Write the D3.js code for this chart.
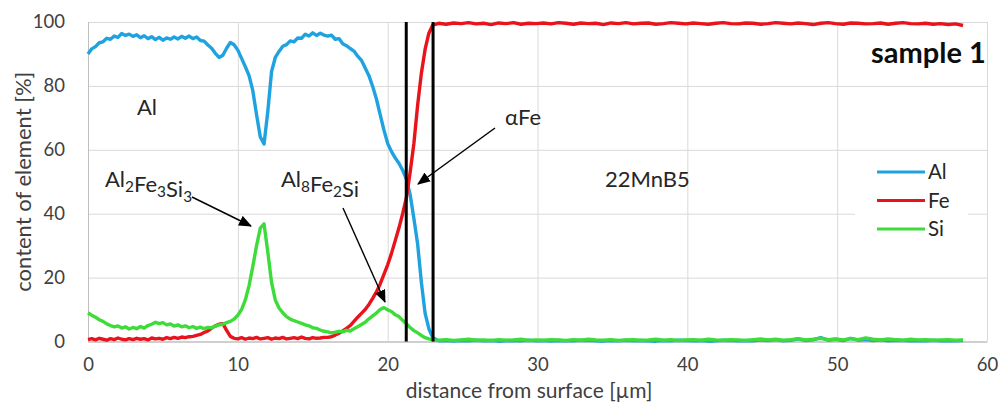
<!DOCTYPE html>
<html>
<head>
<meta charset="utf-8">
<script src="https://cdn.jsdelivr.net/npm/d3@7"></script>
<style>
  html, body { margin: 0; padding: 0; background: #fff; }
  svg { display: block; font-family: Lato, "Open Sans", sans-serif; }
</style>
</head>
<body>
<svg id="chart" width="1001" height="403"></svg>
<script>
// EDS line scan through the coating: element content vs. distance from surface.
// Near-surface profile sampled every 0.25 µm from 0 µm.
const profileStart = 0;
const profileStep = 0.25;
const alProfile = [
  90.0, 91.6, 92.3, 93.5, 93.8, 94.9, 94.6, 95.6, 95.2, 96.4, 95.8, 96.2, 95.5, 96.0, 95.1, 95.7,
  94.8, 95.4, 94.5, 95.2, 94.3, 95.0, 94.6, 95.3, 94.7, 95.5, 94.9, 95.6, 94.8, 95.3, 94.2, 94.0,
  92.8, 91.8, 90.2, 88.9, 89.6, 91.8, 93.6, 92.9, 91.2, 88.6, 86.0, 83.2, 78.5, 71.0, 64.0, 61.8,
  72.0, 84.5, 88.9, 90.8, 92.4, 92.9, 94.1, 93.8, 95.0, 94.9, 96.2, 95.6, 96.6, 95.8, 96.5, 95.9,
  95.6, 95.9, 94.6, 94.8, 93.2, 92.6, 91.7, 90.9, 89.3, 88.0, 85.6, 83.2, 79.8, 75.9, 71.0, 66.2,
  62.0, 59.5, 57.5, 55.8, 53.6, 50.8, 46.0, 38.5, 30.5, 18.5, 8.8, 4.0, 1.3
];
const feProfile = [
  0.6, 0.9, 0.5, 1.0, 0.7, 0.4, 0.9, 0.6, 1.1, 0.7, 0.5, 0.9, 0.6, 1.0, 0.7, 0.9,
  0.5, 1.1, 0.8, 1.0, 0.7, 1.2, 0.9, 1.3, 1.0, 1.4, 1.2, 1.5, 1.6, 1.9, 2.2, 2.8,
  3.3, 4.2, 4.9, 5.4, 5.6, 3.5, 1.6, 1.0, 0.8, 1.2, 0.7, 1.1, 0.9, 1.3, 0.8, 1.0,
  1.2, 0.7, 1.1, 0.9, 1.3, 0.8, 1.0, 1.2, 0.9, 1.4, 1.0, 0.8, 1.2, 1.0, 1.1, 1.3,
  1.3, 1.5, 2.0, 2.6, 3.3, 4.1, 5.0, 6.3, 7.6, 8.8, 10.0, 11.6, 13.5, 15.5, 18.0, 21.0,
  24.0, 27.5, 31.5, 35.5, 40.0, 45.0, 53.0, 62.0, 74.0, 84.0, 91.5, 96.5, 99.0
];
const siProfile = [
  9.0, 8.2, 7.6, 6.8, 6.3, 5.5, 5.0, 4.6, 4.9, 4.2, 4.6, 3.9, 4.4, 4.0, 4.7, 4.2,
  5.0, 5.4, 6.0, 5.6, 5.9, 5.2, 5.5, 4.8, 5.2, 4.6, 4.9, 4.3, 4.7, 4.1, 4.5, 4.0,
  4.4, 4.3, 4.8, 5.2, 5.4, 5.9, 6.3, 7.0, 8.2, 10.0, 13.0, 17.5, 23.5, 30.0, 35.5, 36.8,
  28.0, 18.5, 13.0, 10.5, 9.0, 7.8, 7.0, 6.5, 6.1, 5.7, 5.2, 4.9, 4.3, 4.1, 3.6, 3.2,
  3.0, 2.7, 2.9, 3.2, 3.0, 3.5, 3.3, 4.0, 4.6, 5.3, 6.0, 7.1, 8.0, 8.9, 10.0, 10.6,
  9.9, 9.4, 8.4, 7.8, 6.6, 5.6, 4.4, 3.4, 2.7, 1.9, 1.2, 0.8, 0.5
];

// Steel substrate, sampled every 0.5 µm from 23.4 µm to the end of the scan.
const substrateStart = 23.4;
const substrateStep = 0.5;
const alSubstrate = [
  0.2, 0.3, 0.1, 0.3, 0.2, 0.4, 0.2, 0.3, 0.1, 0.2, 0.3, 0.2, 0.4, 0.2, 0.3, 0.1,
  0.3, 0.2, 0.2, 0.4, 0.3, 0.2, 0.1, 0.3, 0.2, 0.4, 0.2, 0.3, 0.2, 0.1, 0.3, 0.2,
  0.4, 0.3, 0.2, 0.3, 0.1, 0.2, 0.4, 0.3, 0.2, 0.3, 0.2, 0.5, 0.3, 0.6, 0.2, 0.4,
  0.8, 0.3, 0.5, 1.2, 0.4, 0.7, 0.3, 1.0, 0.4, 0.6, 0.3, 0.5, 0.2, 0.4, 0.3, 0.2,
  0.3, 0.2, 0.4, 0.2, 0.3, 0.2, 0.3
];
const feSubstrate = [
  99.6, 99.3, 99.7, 99.5, 99.8, 99.4, 99.6, 99.2, 99.7, 99.5, 99.8, 99.3, 99.6, 99.5, 99.7, 99.4,
  99.8, 99.6, 99.3, 99.7, 99.5, 99.6, 99.2, 99.7, 99.5, 99.8, 99.4, 99.6, 99.7, 99.3, 99.5, 99.8,
  99.6, 99.4, 99.7, 99.5, 99.3, 99.6, 99.8, 99.5, 99.4, 99.7, 99.6, 99.3, 99.5, 99.8, 99.6, 99.4,
  99.7, 99.5, 99.2, 99.6, 99.8, 99.5, 99.3, 99.7, 99.6, 99.4, 99.5, 99.7, 99.3, 99.6, 99.8, 99.5,
  99.4, 99.6, 99.3, 99.5, 99.2, 99.4, 98.9
];
const siSubstrate = [
  0.4, 0.6, 0.3, 0.5, 0.7, 0.4, 0.5, 0.3, 0.6, 0.4, 0.5, 0.7, 0.3, 0.5, 0.4, 0.6,
  0.5, 0.3, 0.6, 0.4, 0.7, 0.5, 0.4, 0.6, 0.3, 0.5, 0.6, 0.4, 0.5, 0.7, 0.4, 0.6,
  0.3, 0.5, 0.6, 0.4, 0.7, 0.5, 0.4, 0.6, 0.5, 0.3, 0.6, 0.8, 0.5, 0.7, 0.4, 0.6,
  0.9, 0.5, 0.7, 1.0, 0.6, 0.8, 0.5, 0.9, 0.6, 1.1, 0.7, 0.5, 0.8, 0.6, 0.4, 0.7,
  0.5, 0.6, 0.4, 0.5, 0.6, 0.4, 0.5
];

const seriesNames = ["Al", "Fe", "Si"];
const seriesColors = ["#1fa3e0", "#e8131b", "#3ddc3a"];
const xTicks = [0, 10, 20, 30, 40, 50, 60];
const yTicks = [0, 20, 40, 60, 80, 100];
// Phase boundaries marked with vertical lines (µm).
const boundaries = [21.24, 23.03];

const svg = d3.select("#chart");
const W = 1001, H = 403;
const x = d3.scaleLinear().domain([0, 60]).range([88, 987]);
const y = d3.scaleLinear().domain([0, 100]).range([341.5, 22]);

svg.append("rect").attr("width", W).attr("height", H).attr("fill", "#fff");

// Gridlines and axes
const gridColor = "#d9d9d9";
const textColor = "#404040";

const yAxis = svg.append("g")
  .attr("transform", `translate(${x(0)},0)`)
  .call(d3.axisLeft(y).tickValues(yTicks).tickSizeInner(-(x(60) - x(0))).tickSizeOuter(0).tickPadding(23));
const xAxis = svg.append("g")
  .attr("transform", `translate(0,${y(0)})`)
  .call(d3.axisBottom(x).tickValues(xTicks).tickSizeInner(-(y(0) - y(100))).tickSizeOuter(0).tickPadding(16));

[yAxis, xAxis].forEach(g => {
  g.select(".domain").attr("stroke", "#bfbfbf").attr("stroke-width", 1);
  g.selectAll(".tick line").attr("stroke", gridColor).attr("stroke-width", 1);
  g.selectAll(".tick text").attr("fill", textColor).attr("font-size", 18.5).attr("font-family", "Lato, sans-serif");
});
xAxis.selectAll(".tick").filter(d => d === 0).select("line").attr("stroke", "#bfbfbf");
yAxis.selectAll(".tick").filter(d => d === 0).select("line").attr("stroke", "#bfbfbf");

// Axis titles
svg.append("text")
  .attr("x", 529).attr("y", 398)
  .attr("text-anchor", "middle").attr("font-size", 21).attr("fill", textColor)
  .text("distance from surface [µm]");
svg.append("text")
  .attr("transform", `translate(31,${(y(0) + y(100)) / 2}) rotate(-90)`)
  .attr("text-anchor", "middle").attr("font-size", 22).attr("fill", textColor)
  .text("content of element [%]");

// Series lines
function points(profile, substrate) {
  const a = profile.map((v, i) => [profileStart + i * profileStep, v]);
  const b = substrate.map((v, i) => [substrateStart + i * substrateStep, v]);
  return a.concat(b);
}
const series = [
  points(alProfile, alSubstrate),
  points(feProfile, feSubstrate),
  points(siProfile, siSubstrate)
];
const line = d3.line().x(d => x(d[0])).y(d => y(d[1]));
svg.append("g").selectAll("path").data(series).join("path")
  .attr("d", line)
  .attr("fill", "none")
  .attr("stroke", (d, i) => seriesColors[i])
  .attr("stroke-width", 3.4)
  .attr("stroke-linejoin", "round");

// Phase boundary lines
svg.append("g").selectAll("line").data(boundaries).join("line")
  .attr("x1", d => x(d)).attr("x2", d => x(d))
  .attr("y1", y(100)).attr("y2", y(0))
  .attr("stroke", "#000").attr("stroke-width", 3);

// Phase labels
const labelFont = 22;
function label(tx, ty, parts, opts = {}) {
  const size = opts.size || labelFont;
  const t = svg.append("text").attr("x", tx).attr("y", ty)
    .attr("font-size", size).attr("fill", opts.color || "#262626")
    .attr("font-weight", opts.weight || "normal");
  parts.forEach(p => {
    if (typeof p === "string") {
      t.append("tspan").text(p);
    } else {
      t.append("tspan").attr("font-size", size * 0.7).attr("dy", 5).text(p.sub);
      t.append("tspan").attr("dy", -5).text("");
    }
  });
  return t;
}
label(137, 115, ["Al"]);
label(105, 187, ["Al", {sub: "2"}, "Fe", {sub: "3"}, "Si", {sub: "3"}]);
label(281, 187, ["Al", {sub: "8"}, "Fe", {sub: "2"}, "Si"]);
label(505, 125, ["αFe"]);
label(605, 187, ["22MnB5"]);
label(871, 63, ["sample 1"], {size: 29, weight: "bold", color: "#0d0d0d"});

// Arrows pointing from labels to features
const defs = svg.append("defs");
defs.append("marker")
  .attr("id", "head").attr("viewBox", "0 0 12 10")
  .attr("refX", 11).attr("refY", 5)
  .attr("markerWidth", 13).attr("markerHeight", 11)
  .attr("markerUnits", "userSpaceOnUse")
  .attr("orient", "auto")
  .append("path").attr("d", "M0,0 L12,5 L0,10 Z").attr("fill", "#000");
const arrows = [
  [[192, 197], [251, 226]],
  [[343, 208], [385, 302]],
  [[495, 128], [418, 184]]
];
svg.append("g").selectAll("line").data(arrows).join("line")
  .attr("x1", d => d[0][0]).attr("y1", d => d[0][1])
  .attr("x2", d => d[1][0]).attr("y2", d => d[1][1])
  .attr("stroke", "#000").attr("stroke-width", 1.4)
  .attr("marker-end", "url(#head)");

// Legend
const legend = svg.append("g");
legend.append("rect").attr("x", 855).attr("y", 156).attr("width", 113).attr("height", 88).attr("fill", "#fff");
seriesNames.forEach((name, i) => {
  const ly = 172 + i * 28.5;
  legend.append("line").attr("x1", 877).attr("x2", 925).attr("y1", ly).attr("y2", ly)
    .attr("stroke", seriesColors[i]).attr("stroke-width", 3);
  legend.append("text").attr("x", 928).attr("y", ly).attr("dy", "0.36em")
    .attr("font-size", 20.5).attr("fill", "#262626").text(name);
});
</script>
</body>
</html>
